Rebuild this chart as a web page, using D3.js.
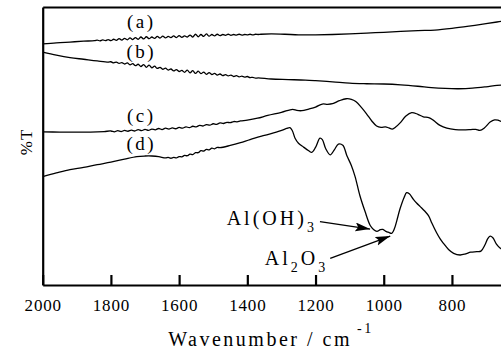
<!DOCTYPE html>
<html>
<head>
<meta charset="utf-8">
<script src="https://cdn.jsdelivr.net/npm/d3@7"></script>
<style>
	body { margin: 0; background: #fff; }
	svg { display: block; }
</style>
</head>
<body>
<svg id="chart" width="501" height="351"></svg>
<script>
// wavenumber (cm-1) against %T
var tickValues = [2000, 1800, 1600, 1400, 1200, 1000, 800];
var seriesNames = ["(a)", "(b)", "(c)", "(d)"];

var spectrumA = [
	[2000,86.7],[1960,87.1],[1920,87.4],[1880,87.7],[1848,87.9],
	[1840,88.1],[1832,87.8],[1824,88.2],[1816,87.9],[1808,88.3],[1800,87.9],[1792,88.4],[1784,88.0],
	[1776,88.6],[1768,88.1],[1760,88.7],[1752,88.2],[1744,88.9],[1736,88.3],[1728,89.0],[1720,88.4],
	[1712,89.2],[1704,88.5],[1696,89.3],[1688,88.6],[1680,89.2],[1672,88.7],[1664,89.4],[1656,88.8],
	[1648,89.5],[1640,88.9],[1632,89.4],[1624,89.0],[1616,89.6],[1608,89.0],[1600,89.7],[1592,89.1],
	[1584,89.6],[1576,89.2],[1568,89.9],[1560,89.2],[1552,90.2],[1544,89.3],[1536,90.1],[1528,89.4],
	[1520,90.3],[1512,89.5],[1504,90.1],[1496,89.6],[1488,90.2],[1480,89.7],[1472,90.1],[1464,89.8],
	[1456,90.2],[1448,89.8],[1440,90.1],[1432,89.9],[1424,90.2],[1416,89.9],[1408,90.1],[1400,90.0],
	[1392,90.2],[1384,90.0],[1376,90.2],[1368,90.1],[1360,90.2],
	[1330,90.3],[1290,90.2],[1250,90.0],[1200,90.0],[1150,90.1],[1100,90.3],[1050,90.6],[1000,90.9],
	[950,91.2],[900,91.5],[850,91.7],[800,92.3],[750,93.1],[700,94.0],[668,94.6],[650,94.9]
];

var spectrumB = [
	[2000,83.8],[1960,82.7],[1920,81.8],[1880,81.2],[1840,80.6],[1808,80.2],
	[1800,80.3],[1792,79.9],[1784,80.2],[1776,79.7],[1768,80.0],[1760,79.5],[1752,79.9],[1744,79.2],
	[1736,79.6],[1728,78.9],[1720,79.4],[1712,78.6],[1704,79.3],[1696,78.3],[1688,79.1],[1680,78.1],
	[1672,78.7],[1664,77.9],[1656,78.3],[1648,77.6],[1640,78.0],[1632,77.3],[1624,77.7],[1616,77.0],
	[1608,77.5],[1600,76.8],[1592,77.2],[1584,76.5],[1576,77.3],[1568,76.3],[1560,77.1],[1552,76.1],
	[1544,76.9],[1536,76.0],[1528,76.6],[1520,75.8],[1512,76.4],[1504,75.7],[1496,76.1],[1488,75.5],
	[1480,75.9],[1472,75.3],[1464,75.7],[1456,75.2],[1448,75.5],[1440,75.0],[1432,75.3],[1424,74.9],
	[1416,75.1],[1408,74.8],[1400,75.0],[1392,74.6],[1384,74.7],[1376,74.4],[1368,74.5],
	[1330,74.1],[1280,73.9],[1230,73.7],[1200,73.5],[1150,73.1],[1100,72.6],[1050,72.4],[1000,72.3],
	[950,72.0],[900,71.5],[860,71.0],[820,70.7],[780,70.6],[740,70.8],[700,71.3],[668,71.8],[650,71.9]
];

var spectrumC = [
	[2000,55.1],[1950,55.0],[1900,55.0],[1860,55.0],[1820,55.2],
	[1800,55.4],[1790,55.1],[1780,55.5],[1770,55.2],[1760,55.6],[1750,55.3],[1740,55.7],[1730,55.4],
	[1720,55.9],[1710,55.5],[1700,56.0],[1690,55.6],[1680,56.1],[1670,55.8],[1660,56.3],[1650,55.9],
	[1640,56.4],[1630,56.1],[1620,56.5],[1610,56.2],[1600,56.7],[1590,56.4],[1580,56.9],[1570,56.6],
	[1560,57.1],[1550,56.9],[1540,57.4],[1530,57.2],[1520,57.7],[1510,57.5],[1500,58.0],[1490,57.8],
	[1480,58.3],[1470,58.1],[1460,58.5],[1450,58.4],[1440,58.8],[1430,58.7],[1420,59.0],
	[1400,59.3],[1370,60.0],[1340,61.0],[1300,62.1],[1267,63.2],[1255,62.8],[1240,62.7],[1220,63.3],
	[1200,64.0],[1180,65.1],[1165,65.0],[1150,65.2],[1130,66.3],[1110,67.0],[1095,66.8],[1082,66.0],
	[1065,63.8],[1050,61.5],[1035,59.0],[1021,57.2],[1008,56.7],[995,56.9],[985,56.5],[975,56.1],
	[965,56.8],[952,58.3],[935,60.8],[918,62.0],[900,61.4],[884,60.5],[868,60.2],[855,59.3],
	[835,57.4],[815,56.4],[790,55.9],[767,55.8],[745,55.9],[730,56.0],[718,55.6],[705,56.5],
	[688,58.6],[675,59.4],[665,59.3],[656,58.8]
];

var spectrumD = [
	[2000,39.0],[1960,40.3],[1920,41.5],[1880,42.3],[1840,43.3],[1800,44.2],[1760,45.3],[1724,46.2],
	[1700,46.4],[1680,46.4],[1660,46.2],[1640,45.7],
	[1632,45.9],[1624,45.6],[1616,45.9],[1608,45.7],[1600,46.2],[1592,46.1],[1584,46.6],[1576,46.5],
	[1568,47.1],[1560,46.9],[1552,47.6],[1544,47.6],[1536,48.3],[1528,48.2],[1520,48.8],[1512,48.6],
	[1504,49.2],[1496,49.0],[1488,49.5],[1480,49.4],
	[1450,50.2],[1420,51.2],[1392,52.3],[1350,53.8],[1304,55.4],[1285,56.3],[1275,56.6],[1268,55.5],
	[1260,52.8],[1250,51.0],[1235,49.6],[1220,48.3],[1211,47.7],[1200,49.5],[1187,52.8],[1180,52.3],
	[1170,49.0],[1157,46.8],[1145,48.6],[1133,50.7],[1120,50.3],[1108,46.5],[1095,43.0],[1084,39.0],
	[1070,32.2],[1055,26.5],[1040,21.5],[1030,20.0],[1020,19.3],[1010,19.9],[1003,20.0],[995,19.4],
	[985,18.9],[977,18.6],[968,20.5],[962,23.0],[952,27.5],[940,31.6],[933,33.2],[925,32.8],
	[913,30.8],[903,29.4],[893,28.2],[880,26.6],[868,24.8],[859,22.3],[845,18.8],[835,16.7],
	[825,15.0],[810,12.8],[795,11.4],[776,10.8],[760,11.2],[745,11.8],[727,12.0],[715,12.2],
	[703,14.5],[695,16.7],[688,17.6],[680,17.0],[670,14.8],[660,13.4],[650,12.6]
];

var spectra = [spectrumA, spectrumB, spectrumC, spectrumD];

(function ()
{
	var serif = "'Liberation Serif', 'DejaVu Serif', 'Noto Serif', 'Times New Roman', Times, serif";
	var svg = d3.select("#chart").style("font-family", serif);
	var left = 42.7, top = 7, bottom = 285;

	var x = d3.scaleLinear().domain([2000, 650]).range([left, 503.1]);
	var y = d3.scaleLinear().domain([0, 100]).range([bottom, top]);

	svg.append("defs").append("clipPath")
		.attr("id", "plotClip")
		.append("rect")
		.attr("x", left)
		.attr("y", top)
		.attr("width", 501 - left)
		.attr("height", bottom - top);

	var arrowHead = svg.select("defs").append("marker")
		.attr("id", "arrowHead")
		.attr("markerUnits", "userSpaceOnUse")
		.attr("markerWidth", 16)
		.attr("markerHeight", 10)
		.attr("refX", 15)
		.attr("refY", 4.5)
		.attr("orient", "auto");
	arrowHead.append("path")
		.attr("d", "M0,0 L15,4.5 L0,9 L3,4.5 Z")
		.attr("fill", "#000");

	var line = d3.line()
		.x(function(d) { return x(d[0]); })
		.y(function(d) { return y(d[1]); })
		.curve(d3.curveCatmullRom.alpha(0.5));

	svg.append("g")
		.attr("clip-path", "url(#plotClip)")
		.selectAll("path.spectrum")
		.data(spectra)
		.enter().append("path")
		.classed("spectrum", 1)
		.attr("d", line)
		.attr("fill", "none")
		.attr("stroke", "#000")
		.attr("stroke-width", 1.3);

	// axes
	var xAxis = d3.axisBottom(x)
		.tickValues(tickValues)
		.tickSizeInner(-10)
		.tickSizeOuter(0)
		.tickPadding(14)
		.tickFormat(d3.format("d"));

	var gx = svg.append("g")
		.attr("transform", "translate(0," + bottom + ")")
		.call(xAxis);
	gx.attr("font-family", serif).attr("font-size", 17);
	gx.select(".domain").attr("stroke-width", 2.2);
	gx.selectAll(".tick line").attr("stroke-width", 2.2);
	gx.selectAll(".tick text")
		.attr("fill", "#000")
		.style("font-family", serif)
		.style("font-size", "17px")
		.style("letter-spacing", "0.8px");

	svg.append("g")
		.attr("transform", "translate(" + left + ",0)")
		.call(d3.axisLeft(y).tickValues([]).tickSizeOuter(0))
		.select(".domain")
		.attr("stroke-width", 2.2);

	svg.append("g")
		.attr("transform", "translate(0," + top + ")")
		.call(d3.axisTop(x).tickValues([]).tickSizeOuter(0))
		.select(".domain")
		.attr("stroke-width", 2.2);

	// curve labels
	var labelSpots = [[1711, 92.3], [1711, 81.7], [1711, 58.5], [1711, 48.7]];
	svg.selectAll("text.curveLabel")
		.data(seriesNames)
		.enter().append("text")
		.classed("curveLabel", 1)
		.text(function(d) { return d; })
		.attr("x", function(d, i) { return x(labelSpots[i][0]); })
		.attr("y", function(d, i) { return y(labelSpots[i][1]); })
		.attr("text-anchor", "middle")
		.style("font-family", serif)
		.style("font-size", "19px")
		.style("letter-spacing", "2.5px");

	// annotations
	var hydroxide = svg.append("text")
		.attr("x", x(1196))
		.attr("y", y(21.6))
		.attr("text-anchor", "end")
		.style("font-family", serif)
		.style("font-size", "20px")
		.style("letter-spacing", "3px");
	hydroxide.append("tspan").text("Al(OH)");
	hydroxide.append("tspan").text("3").attr("dy", 7).style("font-size", "14px");

	var oxide = svg.append("text")
		.attr("x", x(1163))
		.attr("y", y(7.2))
		.attr("text-anchor", "end")
		.style("font-family", serif)
		.style("font-size", "20px")
		.style("letter-spacing", "3px");
	oxide.append("tspan").text("Al");
	oxide.append("tspan").text("2").attr("dy", 7).style("font-size", "14px");
	oxide.append("tspan").text("O").attr("dy", -7);
	oxide.append("tspan").text("3").attr("dy", 7).style("font-size", "14px");

	var arrows = [[[1187, 22.8], [1040, 20.1]], [[1157, 9.6], [981, 17.6]]];
	svg.selectAll("line.arrow")
		.data(arrows)
		.enter().append("line")
		.classed("arrow", 1)
		.attr("x1", function(d) { return x(d[0][0]); })
		.attr("y1", function(d) { return y(d[0][1]); })
		.attr("x2", function(d) { return x(d[1][0]); })
		.attr("y2", function(d) { return y(d[1][1]); })
		.attr("stroke", "#000")
		.attr("stroke-width", 1.3)
		.attr("marker-end", "url(#arrowHead)");

	// axis titles
	var xTitle = svg.append("text")
		.attr("x", 271)
		.attr("y", 346)
		.attr("text-anchor", "middle")
		.style("font-family", serif)
		.style("font-size", "20px")
		.style("letter-spacing", "2.5px");
	xTitle.append("tspan").text("Wavenumber / cm");
	xTitle.append("tspan").text("-1").attr("dx", 5).attr("dy", -13).style("font-size", "14px");

	svg.append("text")
		.attr("transform", "translate(32,142) rotate(-90)")
		.attr("text-anchor", "middle")
		.style("font-family", serif)
		.style("font-size", "17px")
		.style("letter-spacing", "1px")
		.text("%T");
})();
</script>
</body>
</html>
